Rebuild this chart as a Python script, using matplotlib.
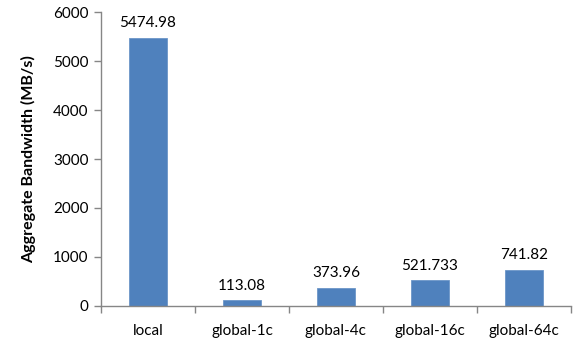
import matplotlib
matplotlib.use("Agg")
import matplotlib.pyplot as plt
import numpy as np

categories = ["local", "global-1c", "global-4c", "global-16c", "global-64c"]
values = [5474.98, 113.08, 373.96, 521.733, 741.82]
value_labels = ["5474.98", "113.08", "373.96", "521.733", "741.82"]
yticks = [0, 1000, 2000, 3000, 4000, 5000, 6000]

plt.rcParams['font.family'] = ['Lato', 'DejaVu Sans']

fig = plt.figure(figsize=(5.79, 3.48), dpi=100)
ax = fig.add_axes([0.1744, 0.1207, 0.986 - 0.1744, 0.9655 - 0.1207])

x = np.arange(len(categories))
bars = ax.bar(x, values, width=0.4, color="#4F81BD", edgecolor="#6C96C8", linewidth=0.6, zorder=2)
for xi, v, lab in zip(x, values, value_labels):
    ax.text(xi, v + 150, lab, ha="center", va="bottom", fontsize=11, color="#000000")

ax.set_xlim(-0.5, len(categories) - 0.5)
ax.set_ylim(0, 6000)
ax.set_yticks(yticks)
ax.set_yticklabels([str(t) for t in yticks], fontsize=11)
ax.set_xticks(x)
ax.set_xticklabels(categories, fontsize=11)
ax.tick_params(axis='x', which='major', length=0, pad=13)
ax.set_xticks(np.arange(-0.5, len(categories), 1), minor=True)
ax.tick_params(axis='x', which='minor', length=5, color="#868686", width=1)
ax.tick_params(axis='y', length=5, color="#868686", width=1, pad=4)

for s in ["top", "right"]:
    ax.spines[s].set_visible(False)
for s in ["left", "bottom"]:
    ax.spines[s].set_color("#868686")
    ax.spines[s].set_linewidth(1)

ax.set_ylabel("Aggregate Bandwidth (MB/s)", fontsize=11.5, fontweight="bold", labelpad=12)

fig.savefig("out.png", dpi=100)
